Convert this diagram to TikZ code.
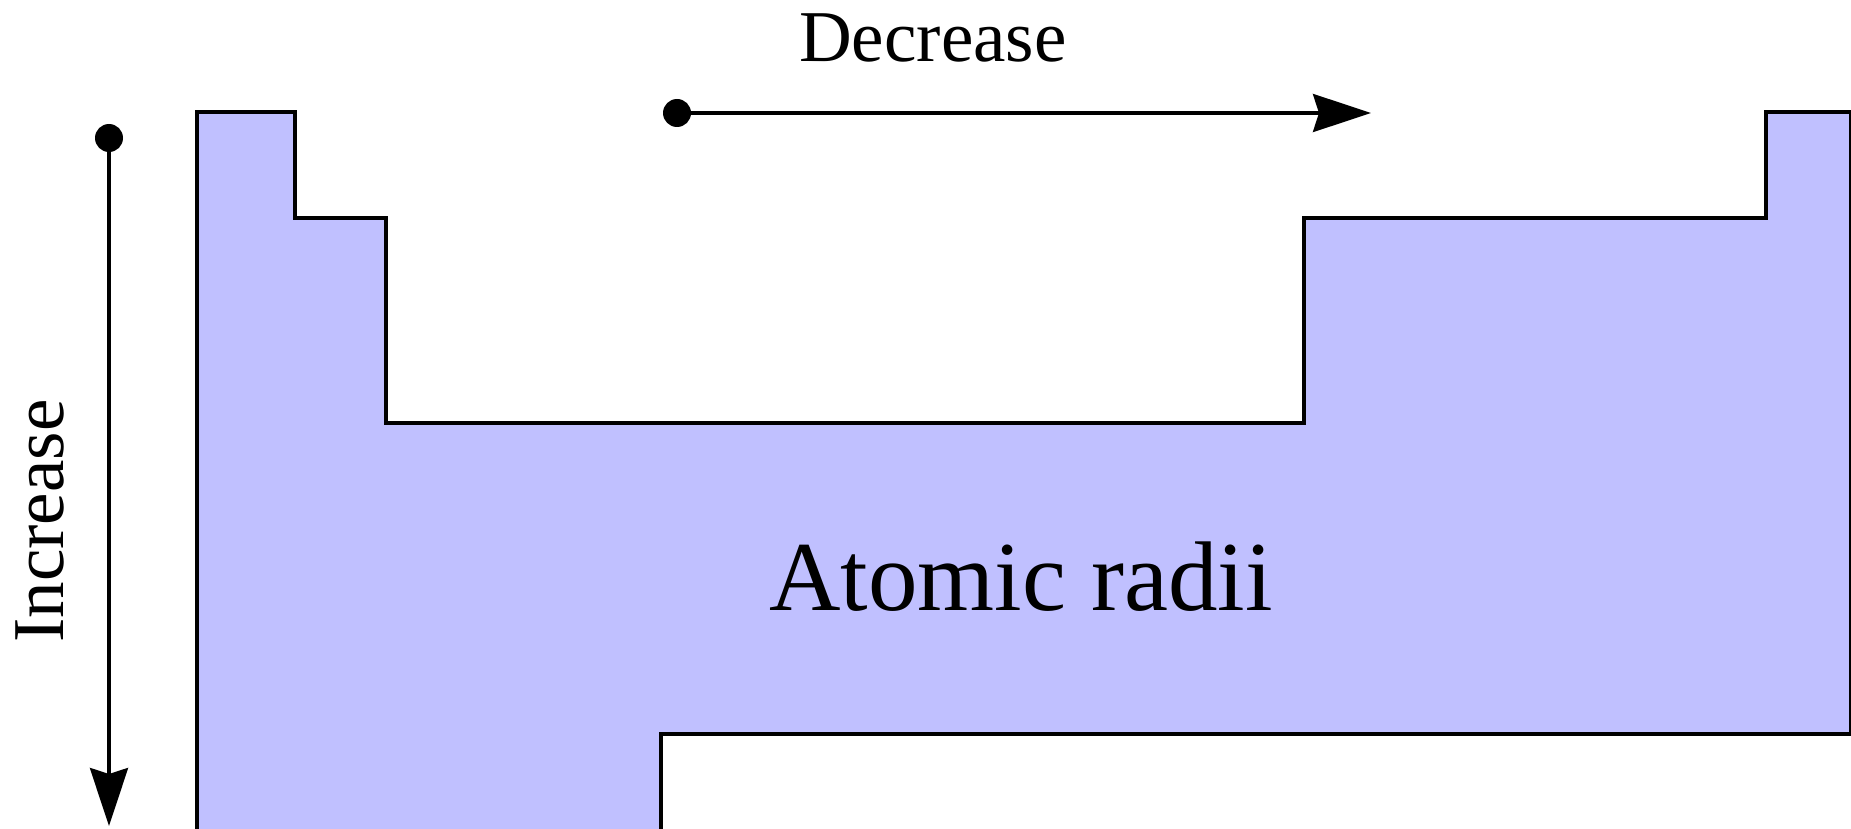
\documentclass[tikz,border=0pt]{standalone}
\usepackage{fontspec}
\setmainfont{Liberation Serif}
\usetikzlibrary{arrows.meta}
\definecolor{regionfill}{RGB}{192,192,255}
\tikzset{
  region/.style={draw=black, fill=regionfill, line width=4pt, line join=miter},
  trendarrow/.style={draw=black, line width=3.5pt, -{Stealth[length=58pt,width=38pt,inset=6pt]}},
  dotmark/.style={circle, fill=black, inner sep=0pt, minimum size=28pt},
  labelsmall/.style={font=\fontsize{73}{80}\selectfont, inner sep=0pt},
  labelbig/.style={font=\fontsize{99}{110}\selectfont, inner sep=0pt}
}
\begin{document}
\begin{tikzpicture}[x=1pt,y=-1pt]
\useasboundingbox (0,0) rectangle (1851,829);
% periodic table outline
\path[region] (197,840) -- (197,112) -- (295,112) -- (295,218) -- (386,218)
  -- (386,423) -- (1304,423) -- (1304,218) -- (1766,218) -- (1766,112)
  -- (1851,112) -- (1851,734) -- (661,734) -- (661,840) -- cycle;
% labels
\node[labelbig, anchor=base] (radii) at (1021,610) {Atomic radii};
\node[labelsmall, anchor=base] (dec) at (933,62) {Decrease};
\node[labelsmall, anchor=base, rotate=90] (inc) at (63,521) {Increase};
% arrows
\node[dotmark] (hstart) at (677,113) {};
\coordinate (hend) at (1371,113);
\draw[trendarrow] (hstart.center) -- (hend);
\node[dotmark] (vstart) at (109,138) {};
\coordinate (vend) at (109,826);
\draw[trendarrow] (vstart.center) -- (vend);
\end{tikzpicture}
\end{document}
